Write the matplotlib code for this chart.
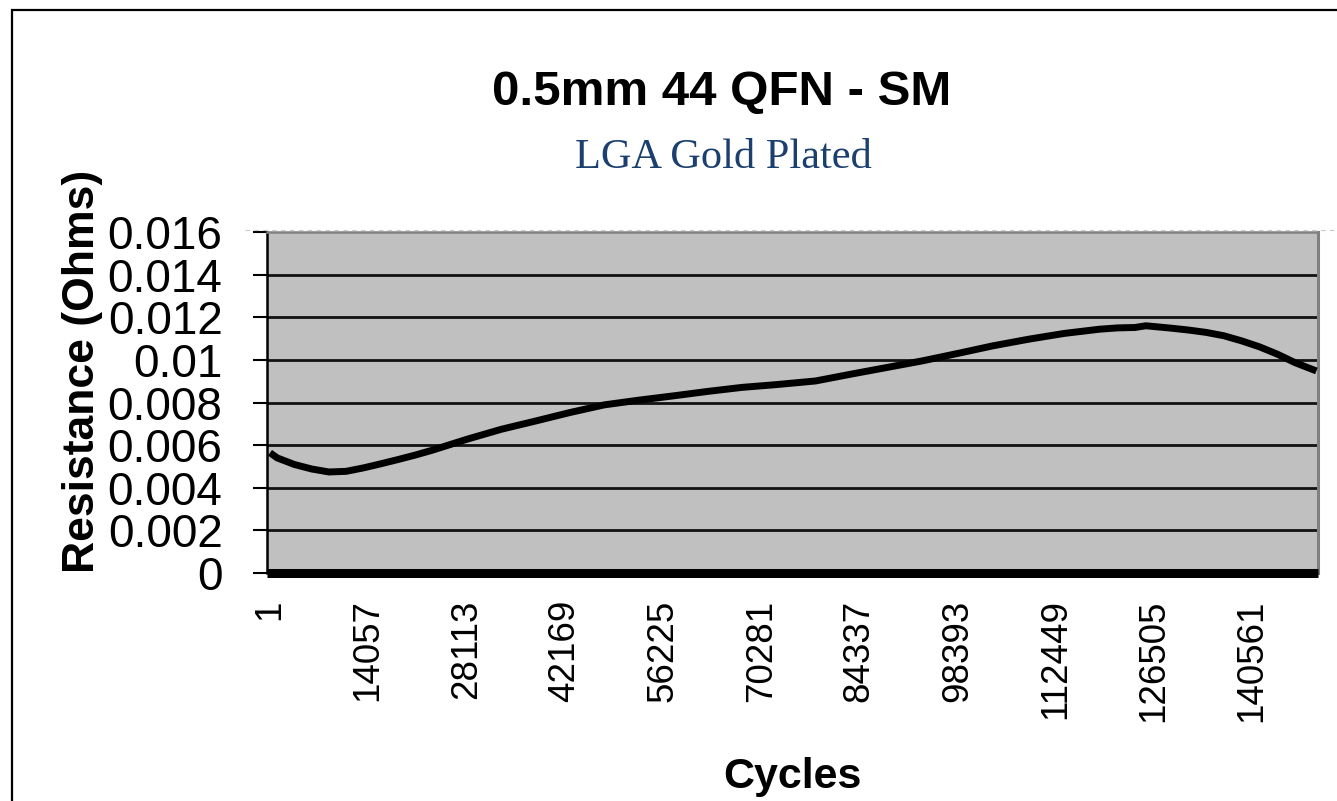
import matplotlib
matplotlib.use("Agg")
import matplotlib.pyplot as plt
from matplotlib.patches import Rectangle
from matplotlib.lines import Line2D

# resistance vs. cycles
cycles = [1, 1030, 3500, 5960, 8430, 10890, 13350, 15810, 18280, 20750,
          23210, 28130, 33060, 37990, 42920, 47850, 52780, 57700, 62630,
          67560, 72480, 78060, 83140, 88230, 93300, 98390, 103460, 108570,
          113630, 118730, 121280, 123780, 125340, 128900, 131440, 133950,
          136520, 139060, 141610, 144140, 146680, 149740]
resistance = [0.00564, 0.0054, 0.00509, 0.00488, 0.00474, 0.00477, 0.00493,
              0.00512, 0.00532, 0.00553, 0.00576, 0.00627, 0.00674, 0.00713,
              0.00753, 0.00789, 0.00811, 0.00831, 0.00852, 0.00871, 0.00884,
              0.00901, 0.00933, 0.00964, 0.00995, 0.0103, 0.01066, 0.01097,
              0.01124, 0.01144, 0.0115, 0.01152, 0.0116, 0.01149, 0.0114,
              0.01129, 0.01113, 0.01089, 0.01061, 0.01027, 0.00987, 0.00948]

xtick_vals = [1, 14057, 28113, 42169, 56225, 70281, 84337, 98393, 112449,
              126505, 140561]
ytick_vals = [0, 0.002, 0.004, 0.006, 0.008, 0.01, 0.012, 0.014, 0.016]
ytick_labels = ["0", "0.002", "0.004", "0.006", "0.008", "0.01", "0.012",
                "0.014", "0.016"]

sans = "Liberation Sans"
serif = "Liberation Serif"

W, H = 1337, 801
fig = plt.figure(figsize=(W / 100, H / 100), dpi=100)
fig.patch.set_facecolor("white")

# plot area in pixel coords: left 267, right 1318, top 232, bottom 573
ax = fig.add_axes([267 / W, 1 - 573 / H, (1318 - 267) / W, (573 - 232) / H])
ax.set_facecolor("#c0c0c0")

for y in ytick_vals[1:-1]:
    ax.axhline(y, color="#111111", lw=2.0, zorder=1)

ax.plot(cycles, resistance, color="black", lw=5.0, solid_capstyle="butt",
        solid_joinstyle="round", zorder=3)

ax.set_xlim(-430, 149970)
ax.set_ylim(0, 0.016)

ax.set_xticks(xtick_vals)
ax.set_xticklabels([str(v) for v in xtick_vals], rotation=90,
                   fontsize=26.5, family=sans, va="top", ha="center")
ax.tick_params(axis="x", length=0, pad=19)

ax.set_yticks(ytick_vals)
ax.set_yticklabels(ytick_labels, fontsize=33, family=sans)
ax.tick_params(axis="y", direction="out", length=10, width=1.5, pad=22,
               color="black")

ax.spines["left"].set_color("black")
ax.spines["left"].set_linewidth(1.8)
ax.spines["bottom"].set_color("black")
ax.spines["bottom"].set_linewidth(6.5)
ax.spines["bottom"].set_capstyle("butt")
ax.spines["top"].set_color("#808080")
ax.spines["top"].set_linewidth(1.8)
ax.spines["right"].set_color("#808080")
ax.spines["right"].set_linewidth(2.2)

# titles and axis labels
fig.text(722 / W, 1 - 105 / H, "0.5mm 44 QFN - SM", ha="center",
         va="baseline", fontsize=35.5, fontweight="bold", family=sans)
fig.text(723 / W, 1 - 168 / H, "LGA Gold Plated", ha="center",
         va="baseline", fontsize=30.5, family=serif, color="#1b3f6e")
fig.text(792 / W, 1 - 788 / H, "Cycles", ha="center", va="baseline",
         fontsize=31, fontweight="bold", family=sans)
fig.text(83 / W, 1 - 371 / H, "Resistance (Ohms)", ha="center",
         va="center", rotation=90, fontsize=32, fontweight="bold",
         family=sans)

# outer chart frame and faint dashed line at the plot top
fig.patches.append(Rectangle((12 / W, -0.1), 1.2, 1.1 - 10 / H,
                             transform=fig.transFigure, fill=False,
                             edgecolor="black", lw=1.6))
fig.lines.append(Line2D([245 / W, 1.0], [1 - 230 / H, 1 - 230 / H],
                        transform=fig.transFigure, color="#c8c8c8",
                        lw=0.8, ls=(0, (4, 4)), zorder=0))

fig.savefig("out.png", dpi=100)
